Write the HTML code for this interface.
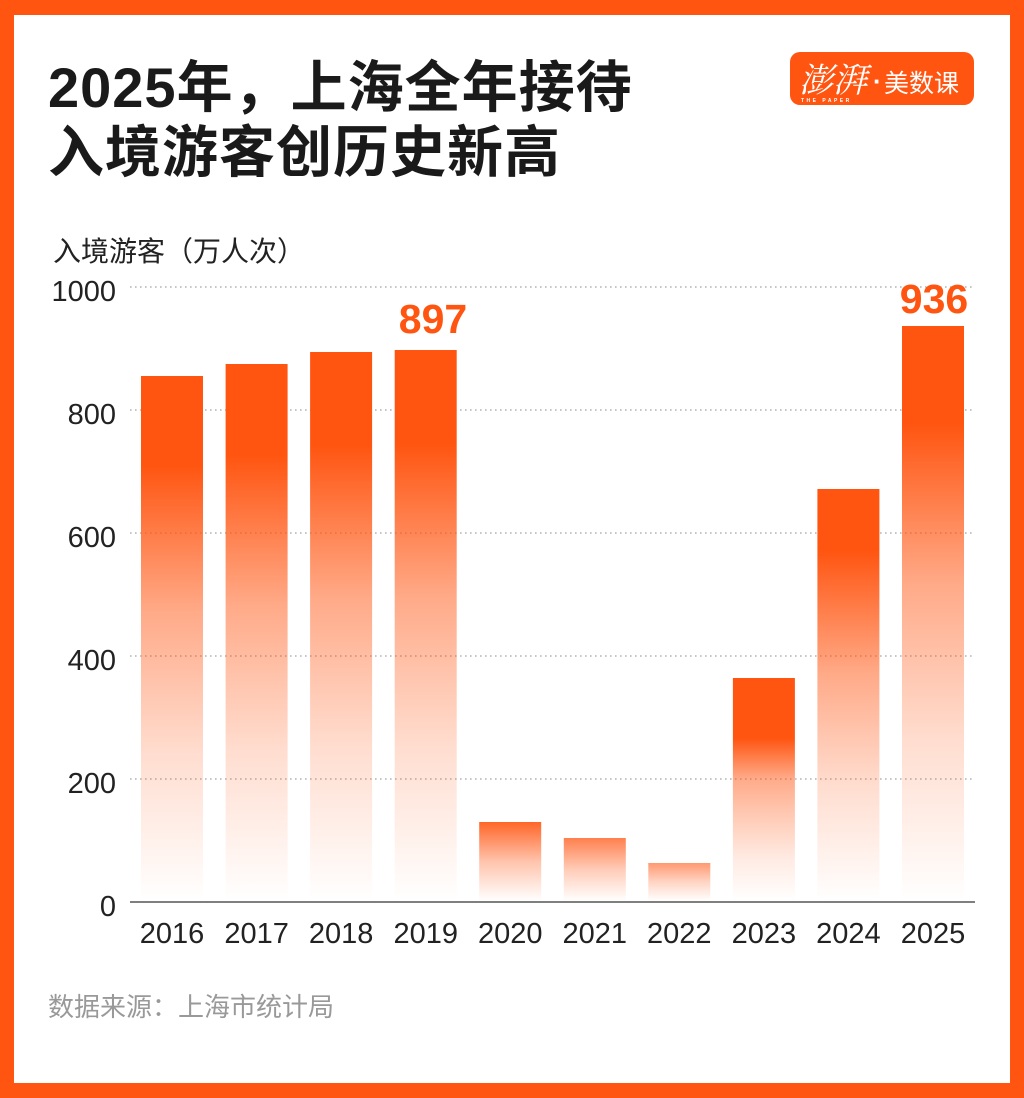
<!DOCTYPE html>
<html><head><meta charset="utf-8"><style>
html,body{margin:0;padding:0;background:#fff;}
body{width:1024px;height:1098px;overflow:hidden;}
svg{display:block;}
</style></head><body>
<svg width="1024" height="1098" viewBox="0 0 1024 1098" xmlns="http://www.w3.org/2000/svg">
<defs>
<linearGradient id="gT" x1="0" y1="0" x2="0" y2="1">
<stop offset="0" stop-color="#FF5511" stop-opacity="1"/>
<stop offset="0.17" stop-color="#FF5511" stop-opacity="1"/>
<stop offset="0.45" stop-color="#FF5511" stop-opacity="0.5"/>
<stop offset="0.72" stop-color="#FF5511" stop-opacity="0.2"/>
<stop offset="1" stop-color="#FF5511" stop-opacity="0"/>
</linearGradient>
<linearGradient id="g24" x1="0" y1="0" x2="0" y2="1">
<stop offset="0" stop-color="#FF5511" stop-opacity="1"/>
<stop offset="0.15" stop-color="#FF5511" stop-opacity="1"/>
<stop offset="0.45" stop-color="#FF5511" stop-opacity="0.5"/>
<stop offset="0.72" stop-color="#FF5511" stop-opacity="0.2"/>
<stop offset="1" stop-color="#FF5511" stop-opacity="0"/>
</linearGradient>
<linearGradient id="g23" x1="0" y1="0" x2="0" y2="1">
<stop offset="0" stop-color="#FF5511" stop-opacity="1"/>
<stop offset="0.27" stop-color="#FF5511" stop-opacity="1"/>
<stop offset="0.45" stop-color="#FF5511" stop-opacity="0.5"/>
<stop offset="0.63" stop-color="#FF5511" stop-opacity="0.3"/>
<stop offset="0.81" stop-color="#FF5511" stop-opacity="0.12"/>
<stop offset="1" stop-color="#FF5511" stop-opacity="0"/>
</linearGradient>
<linearGradient id="g20" x1="0" y1="0" x2="0" y2="1">
<stop offset="0" stop-color="#FF5511" stop-opacity="0.9"/>
<stop offset="0.5" stop-color="#FF5511" stop-opacity="0.35"/>
<stop offset="1" stop-color="#FF5511" stop-opacity="0"/>
</linearGradient>
<linearGradient id="g21" x1="0" y1="0" x2="0" y2="1">
<stop offset="0" stop-color="#FF5511" stop-opacity="0.75"/>
<stop offset="0.5" stop-color="#FF5511" stop-opacity="0.3"/>
<stop offset="1" stop-color="#FF5511" stop-opacity="0"/>
</linearGradient>
<linearGradient id="g22" x1="0" y1="0" x2="0" y2="1">
<stop offset="0" stop-color="#FF5511" stop-opacity="0.6"/>
<stop offset="0.5" stop-color="#FF5511" stop-opacity="0.25"/>
<stop offset="1" stop-color="#FF5511" stop-opacity="0"/>
</linearGradient>
</defs>

<!-- border -->
<rect x="0" y="0" width="1024" height="1098" fill="#FF5511"/>
<rect x="14" y="15" width="996" height="1068" fill="#ffffff"/>

<!-- title -->
<g font-family="'Liberation Sans','Noto Sans CJK SC',sans-serif" font-weight="bold" font-size="56" fill="#1a1a1a" letter-spacing="1">
<text x="48" y="107">2025年，上海全年接待</text>
<text x="48" y="172">入境游客创历史新高</text>
</g>

<!-- logo -->
<rect x="790" y="52" width="184" height="53" rx="10" ry="10" fill="#FF5511"/>
<text x="799" y="92" font-family="'Noto Serif CJK SC','Noto Sans CJK SC',serif" font-size="34" fill="#fff" font-style="italic">澎湃</text>
<text x="873" y="90" font-family="'Liberation Sans',sans-serif" font-size="26" font-weight="bold" fill="#fff">·</text>
<text x="884" y="92" font-family="'Liberation Sans','Noto Sans CJK SC',sans-serif" font-size="25" fill="#fff">美数课</text>
<text x="801" y="102" font-family="'Liberation Sans',sans-serif" font-size="5" font-weight="bold" fill="#fff" letter-spacing="2.5">THE PAPER</text>

<!-- axis title -->
<text x="53" y="261" font-family="'Liberation Sans','Noto Sans CJK SC',sans-serif" font-size="28" fill="#222">入境游客（万人次）</text>

<!-- gridlines -->
<g stroke="#b3b3b3" stroke-width="1.6" stroke-dasharray="1.6 3.4" fill="none">
<line x1="130" y1="287" x2="975" y2="287"/>
<line x1="130" y1="410" x2="975" y2="410"/>
<line x1="130" y1="533" x2="975" y2="533"/>
<line x1="130" y1="656" x2="975" y2="656"/>
<line x1="130" y1="779" x2="975" y2="779"/>
</g>

<!-- y tick labels -->
<g font-family="'Liberation Sans',sans-serif" font-size="29" fill="#222" text-anchor="end">
<text x="116" y="301">1000</text>
<text x="116" y="424">800</text>
<text x="116" y="547">600</text>
<text x="116" y="670">400</text>
<text x="116" y="793">200</text>
<text x="116" y="916">0</text>
</g>

<!-- bars -->
<rect x="141" y="376" width="62" height="525" fill="url(#gT)"/>
<rect x="225.6" y="364" width="62" height="537" fill="url(#gT)"/>
<rect x="310.1" y="352" width="62" height="549" fill="url(#gT)"/>
<rect x="394.7" y="350" width="62" height="551" fill="url(#gT)"/>
<rect x="479.2" y="822" width="62" height="79" fill="url(#g20)"/>
<rect x="563.8" y="838" width="62" height="63" fill="url(#g21)"/>
<rect x="648.3" y="863" width="62" height="38" fill="url(#g22)"/>
<rect x="732.9" y="678" width="62" height="223" fill="url(#g23)"/>
<rect x="817.4" y="489" width="62" height="412" fill="url(#g24)"/>
<rect x="902" y="326" width="62" height="575" fill="url(#gT)"/>

<!-- axis -->
<line x1="130" y1="902" x2="975" y2="902" stroke="#555" stroke-width="1.6"/>

<!-- value labels -->
<g font-family="'Liberation Sans',sans-serif" font-size="41" font-weight="bold" fill="#FF5511" text-anchor="middle">
<text x="433" y="333">897</text>
<text x="934" y="313">936</text>
</g>

<!-- x labels -->
<g font-family="'Liberation Sans',sans-serif" font-size="29" fill="#222" text-anchor="middle">
<text x="172" y="943">2016</text>
<text x="256.6" y="943">2017</text>
<text x="341.1" y="943">2018</text>
<text x="425.7" y="943">2019</text>
<text x="510.2" y="943">2020</text>
<text x="594.8" y="943">2021</text>
<text x="679.3" y="943">2022</text>
<text x="763.9" y="943">2023</text>
<text x="848.4" y="943">2024</text>
<text x="933" y="943">2025</text>
</g>

<!-- source -->
<text x="48" y="1016" font-family="'Liberation Sans','Noto Sans CJK SC',sans-serif" font-size="26" fill="#999">数据来源：上海市统计局</text>
</svg>
</body></html>
